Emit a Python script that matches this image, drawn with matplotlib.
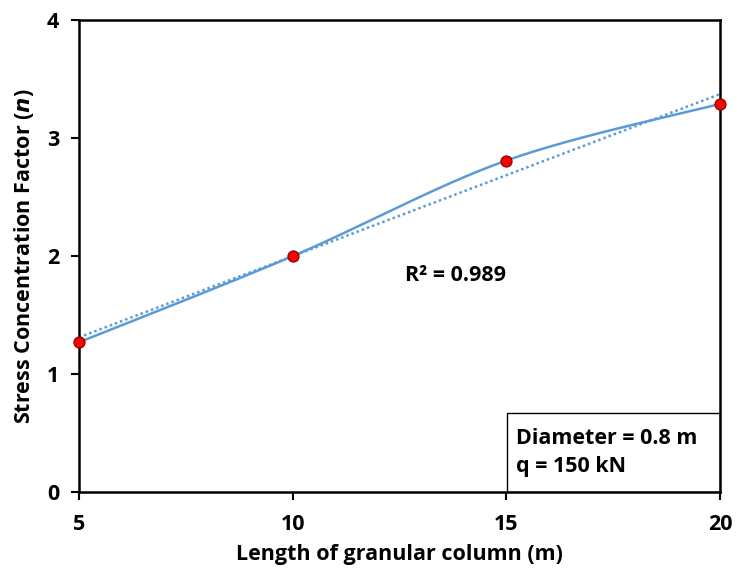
import numpy as np
import matplotlib
matplotlib.use("Agg")
import matplotlib.pyplot as plt
from matplotlib.patches import Rectangle

# data
length = [5, 10, 15, 20]
stress_factor = [1.27, 2.00, 2.81, 3.29]
x_ticks = [5, 10, 15, 20]
y_ticks = [0, 1, 2, 3, 4]

plt.rcParams['font.family'] = ['Open Sans', 'DejaVu Sans']
plt.rcParams['font.weight'] = 'bold'

blue = '#5B9BD5'
fs = 15.5


def excel_smooth(xs, ys, n=60):
    # Excel-style smoothed line: cubic Bezier with Catmull-Rom control points
    pts = np.column_stack([xs, ys]).astype(float)
    ext = np.vstack([pts[0], pts, pts[-1]])
    out = []
    t = np.linspace(0, 1, n)[:, None]
    for i in range(1, len(ext) - 2):
        p0, p1, p2, p3 = ext[i - 1], ext[i], ext[i + 1], ext[i + 2]
        c1 = p1 + (p2 - p0) / 6
        c2 = p2 - (p3 - p1) / 6
        seg = ((1 - t) ** 3) * p1 + 3 * ((1 - t) ** 2) * t * c1 + 3 * (1 - t) * t ** 2 * c2 + t ** 3 * p2
        out.append(seg)
    out = np.vstack(out)
    return out[:, 0], out[:, 1]


fig = plt.figure(figsize=(7.37, 5.75), dpi=100)
ax = fig.add_axes([0.107, 0.144, 0.870, 0.821])

sx, sy = excel_smooth(length, stress_factor)
ax.plot(sx, sy, color=blue, lw=1.8, zorder=2)

# linear trendline
coef = np.polyfit(length, stress_factor, 1)
xl = np.array([length[0], length[-1]])
ax.plot(xl, np.polyval(coef, xl), color=blue, lw=1.8, ls=(0, (1, 1.2)), zorder=2)

ax.plot(length, stress_factor, 'o', color='red', mec='#7a0000', mew=0.8,
        ms=8, zorder=4, clip_on=False)

ax.set_xlim(5, 20)
ax.set_ylim(0, 4)
ax.set_xticks(x_ticks)
ax.set_yticks(y_ticks)
ax.tick_params(labelsize=fs, width=1.5, length=6, direction='out')
ax.tick_params(axis='x', pad=10)
ax.tick_params(axis='y', pad=8)
for s in ax.spines.values():
    s.set_linewidth(1.8)

ax.set_xlabel('Length of granular column (m)', fontsize=fs, fontweight='bold', labelpad=6)
ax.set_ylabel('Stress Concentration Factor ($\\mathbfit{n}$)', fontsize=fs,
              fontweight='bold', labelpad=8)

ax.text(13.8, 1.84, 'R² = 0.989', fontsize=fs, fontweight='bold', ha='center', va='center')

ax.add_patch(Rectangle((0.668, 0), 0.332, 0.167, transform=ax.transAxes,
                       fill=False, ec='black', lw=1.0, zorder=5))
ax.text(0.682, 0.114, 'Diameter = 0.8 m', transform=ax.transAxes, fontsize=fs,
        fontweight='bold', va='center')
ax.text(0.682, 0.055, 'q = 150 kN', transform=ax.transAxes, fontsize=fs,
        fontweight='bold', va='center')

fig.savefig('out.png', dpi=100)
